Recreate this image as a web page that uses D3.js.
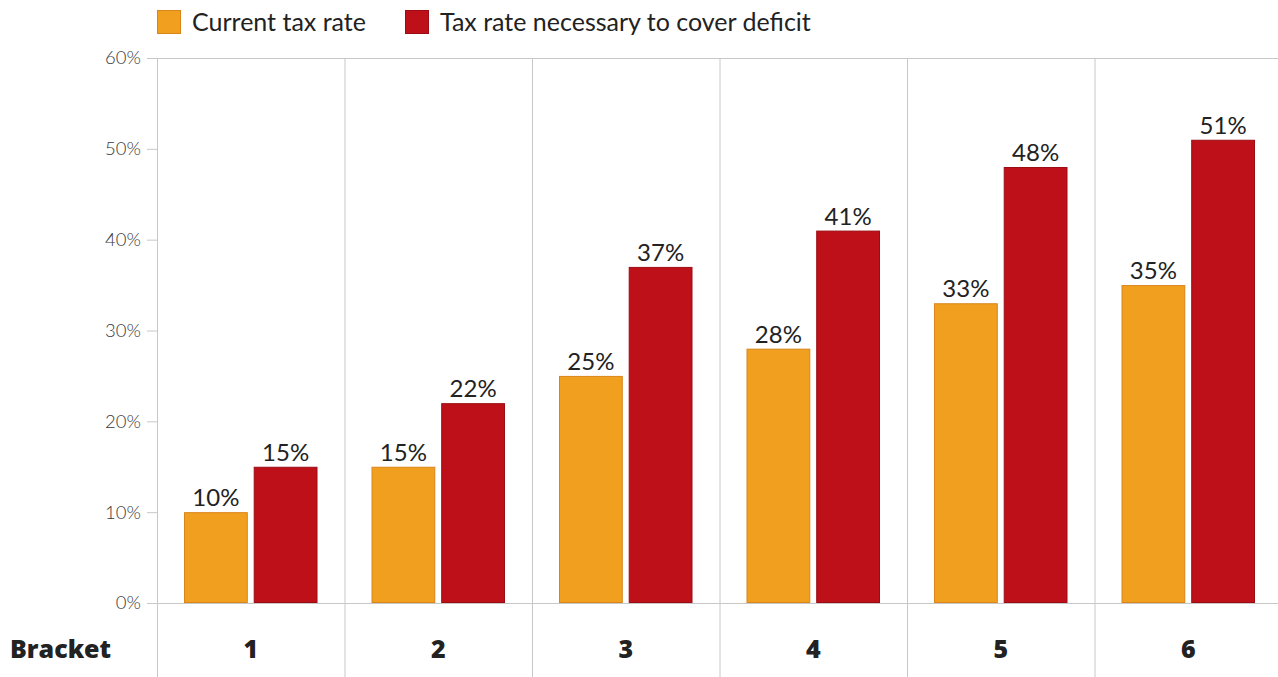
<!DOCTYPE html>
<html>
<head>
<meta charset="utf-8">
<script src="https://cdn.jsdelivr.net/npm/d3@7"></script>
<style>
  body { margin: 0; background: #fff; }
  svg { display: block; font-family: Lato, "Open Sans", sans-serif; }
</style>
</head>
<body>
<svg width="1278" height="677"></svg>
<script>
const brackets = ["1", "2", "3", "4", "5", "6"]
const currentRate = [10, 15, 25, 28, 33, 35]
const neededRate = [15, 22, 37, 41, 48, 51]
const seriesNames = ["Current tax rate", "Tax rate necessary to cover deficit"]
const yTicks = [0, 10, 20, 30, 40, 50, 60]

const colors = ["#f0a01e", "#be1019"]
const strokes = ["#d9851a", "#9c0c14"]

const svg = d3.select('svg')
const plotLeft = 157, plotRight = 1282, plotTop = 58, plotBottom = 603

const x = d3.scaleBand().domain(brackets).range([plotLeft, plotRight])
const inner = d3.scaleBand().domain([0, 1]).range([27, x.bandwidth() - 27]).paddingInner(0.085)
const y = d3.scaleLinear().domain([0, 60]).range([plotBottom, plotTop])

const grid = '#c8c8c8'

// vertical separators
svg.append('g')
  .selectAll('line')
  .data(brackets.concat(['end']))
  .join('line')
  .attr('x1', (d, i) => plotLeft + i * x.bandwidth() + 0.5)
  .attr('x2', (d, i) => plotLeft + i * x.bandwidth() + 0.5)
  .attr('y1', plotTop)
  .attr('y2', 677)
  .attr('stroke', grid)

// y axis
const yAxis = svg.append('g')
  .attr('transform', `translate(${plotLeft},0)`)
  .call(d3.axisLeft(y).tickValues(yTicks).tickFormat(d => d + '%').tickSize(10).tickPadding(6))
yAxis.select('.domain').remove()
yAxis.selectAll('line').attr('stroke', grid)
yAxis.selectAll('text')
  .attr('fill', '#3a3a3a')
  .attr('font-size', 18.5)
  .attr('font-weight', 300)
  .attr('font-family', 'Lato, sans-serif')

// top and baseline lines
svg.append('g')
  .selectAll('line')
  .data([0, 60])
  .join('line')
  .attr('x1', plotLeft)
  .attr('x2', 1278)
  .attr('y1', d => Math.round(y(d)) + 0.5)
  .attr('y2', d => Math.round(y(d)) + 0.5)
  .attr('stroke', grid)

// bars
const rows = brackets.map((b, i) => ({ b, vals: [currentRate[i], neededRate[i]] }))
const groups = svg.append('g')
  .selectAll('g')
  .data(rows)
  .join('g')
  .attr('transform', d => `translate(${x(d.b)},0)`)

groups.selectAll('rect')
  .data(d => d.vals.map((v, k) => ({ v, k })))
  .join('rect')
  .attr('x', d => inner(d.k) + 0.5)
  .attr('y', d => y(d.v) + 0.5)
  .attr('width', inner.bandwidth() - 1)
  .attr('height', d => y(0) - y(d.v) - 1)
  .attr('fill', d => colors[d.k])
  .attr('stroke', d => strokes[d.k])

groups.selectAll('text')
  .data(d => d.vals.map((v, k) => ({ v, k })))
  .join('text')
  .attr('x', d => inner(d.k) + inner.bandwidth() / 2)
  .attr('y', d => y(d.v) - 6)
  .attr('text-anchor', 'middle')
  .attr('font-size', 24)
  .attr('fill', '#222')
  .text(d => d.v + '%')

// category labels
svg.append('g')
  .selectAll('text')
  .data(brackets)
  .join('text')
  .attr('x', d => x(d) + x.bandwidth() / 2)
  .attr('y', 658)
  .attr('text-anchor', 'middle')
  .attr('font-size', 25)
  .attr('font-weight', 800)
  .attr('font-family', '"Open Sans", sans-serif')
  .attr('fill', '#222')
  .text(d => d)

svg.append('text')
  .attr('x', 10)
  .attr('y', 658)
  .attr('font-size', 25)
  .attr('font-weight', 800)
  .attr('font-family', '"Open Sans", sans-serif')
  .attr('fill', '#222')
  .text('Bracket')

// legend
const legend = svg.append('g')
  .selectAll('g')
  .data(seriesNames)
  .join('g')
  .attr('transform', (d, i) => `translate(${157 + i * 248},10)`)

legend.append('rect')
  .attr('x', 0.5)
  .attr('y', 0.5)
  .attr('width', 23)
  .attr('height', 23)
  .attr('fill', (d, i) => colors[i])
  .attr('stroke', (d, i) => strokes[i])

legend.append('text')
  .attr('x', 35)
  .attr('y', 21)
  .attr('font-size', 25)
  .attr('fill', '#222')
  .text(d => d)
</script>
</body>
</html>
